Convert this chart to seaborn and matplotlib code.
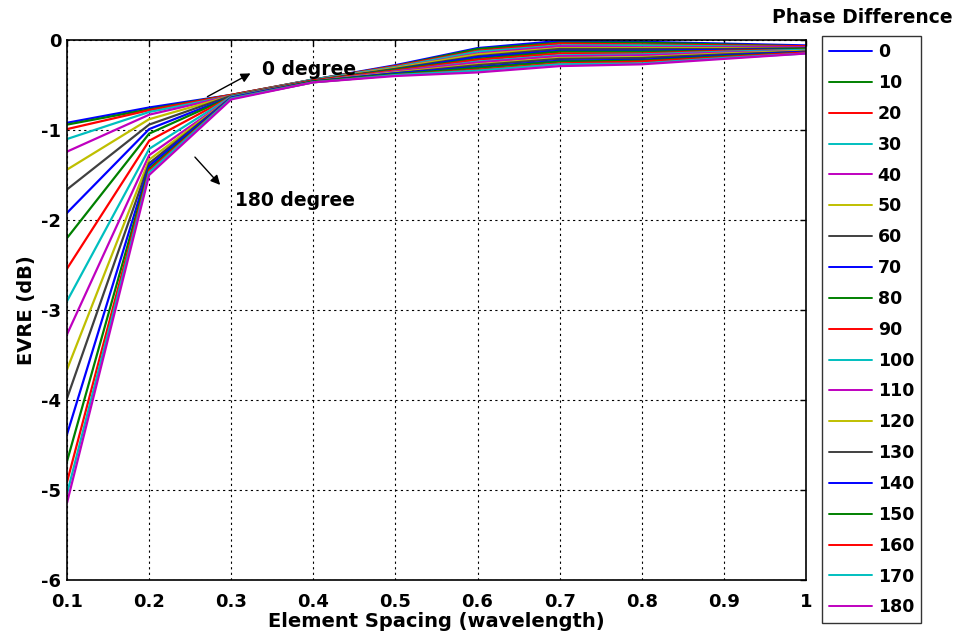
import numpy as np
import pandas as pd
import matplotlib
matplotlib.use("Agg")
import matplotlib.pyplot as plt
import seaborn as sns

# ---- data ----
spacing = [0.1, 0.2, 0.3, 0.4, 0.5, 0.6, 0.7, 0.8, 0.9, 1.0]
phases = [0, 10, 20, 30, 40, 50, 60, 70, 80, 90, 100, 110, 120, 130, 140, 150, 160, 170, 180]

# EVRE (dB) per spacing, listed for phases 0..180
evre_01 = [-0.92, -0.94, -0.99, -1.10, -1.24, -1.44, -1.66, -1.92, -2.20, -2.54,
           -2.90, -3.27, -3.66, -3.98, -4.38, -4.68, -4.91, -5.04, -5.14]
evre_02 = [-0.75, -0.77, -0.78, -0.80, -0.83, -0.88, -0.94, -0.99, -1.04, -1.12,
           -1.21, -1.28, -1.33, -1.37, -1.40, -1.43, -1.45, -1.47, -1.50]
evre_03 = [-0.61, -0.61, -0.61, -0.62, -0.62, -0.62, -0.62, -0.63, -0.63, -0.63,
           -0.63, -0.64, -0.64, -0.64, -0.64, -0.65, -0.65, -0.65, -0.66]
evre_04 = [-0.44, -0.44, -0.44, -0.44, -0.45, -0.45, -0.45, -0.45, -0.45, -0.45,
           -0.46, -0.46, -0.46, -0.46, -0.46, -0.46, -0.47, -0.47, -0.47]
evre_05 = [-0.28, -0.29, -0.29, -0.30, -0.31, -0.31, -0.32, -0.33, -0.33, -0.34,
           -0.35, -0.35, -0.36, -0.37, -0.37, -0.38, -0.39, -0.39, -0.40]
evre_06 = [-0.09, -0.10, -0.12, -0.13, -0.15, -0.16, -0.18, -0.19, -0.21, -0.22,
           -0.24, -0.25, -0.27, -0.28, -0.30, -0.31, -0.33, -0.34, -0.36]
evre_07 = [-0.01, -0.03, -0.04, -0.06, -0.07, -0.09, -0.10, -0.12, -0.13, -0.15,
           -0.17, -0.18, -0.20, -0.21, -0.23, -0.24, -0.26, -0.27, -0.29]
evre_08 = [-0.02, -0.03, -0.05, -0.06, -0.08, -0.09, -0.10, -0.12, -0.13, -0.15,
           -0.16, -0.17, -0.19, -0.20, -0.22, -0.23, -0.24, -0.26, -0.27]
evre_09 = [-0.04, -0.05, -0.06, -0.07, -0.08, -0.09, -0.10, -0.11, -0.12, -0.12,
           -0.13, -0.14, -0.15, -0.16, -0.17, -0.18, -0.19, -0.20, -0.21]
evre_10 = [-0.06, -0.07, -0.07, -0.08, -0.08, -0.09, -0.09, -0.10, -0.10, -0.11,
           -0.11, -0.12, -0.12, -0.13, -0.13, -0.14, -0.14, -0.15, -0.15]

columns = [evre_01, evre_02, evre_03, evre_04, evre_05,
           evre_06, evre_07, evre_08, evre_09, evre_10]

x_ticks = [0.1, 0.2, 0.3, 0.4, 0.5, 0.6, 0.7, 0.8, 0.9, 1]
x_ticklabels = ["0.1", "0.2", "0.3", "0.4", "0.5", "0.6", "0.7", "0.8", "0.9", "1"]
y_ticks = [0, -1, -2, -3, -4, -5, -6]

rows = []
for xi, col in zip(spacing, columns):
    for p, v in zip(phases, col):
        rows.append({"spacing": xi, "phase": str(p), "evre": v})
df = pd.DataFrame(rows)

matlab_cycle = ["#0000ff", "#008000", "#ff0000", "#00bfbf", "#bf00bf", "#bfbf00", "#404040"]
palette = [matlab_cycle[i % 7] for i in range(len(phases))]

sns.set_style("white")
plt.rcParams["font.family"] = ["DejaVu Sans"]
plt.rcParams["font.weight"] = "bold"
for k in ["text.color", "axes.labelcolor", "xtick.color", "ytick.color"]:
    plt.rcParams[k] = "black"

fig = plt.figure(figsize=(9.62, 6.39), dpi=100)
ax = fig.add_axes([0.0697, 0.0923, 0.768, 0.8451])

sns.lineplot(data=df, x="spacing", y="evre", hue="phase",
             hue_order=[str(p) for p in phases], palette=palette,
             linewidth=1.6, ax=ax, legend=True, sort=False)

ax.set_xlim(0.1, 1.0)
ax.set_ylim(-6, 0)
ax.set_xticks(x_ticks)
ax.set_xticklabels(x_ticklabels, fontsize=13, fontweight="bold")
ax.set_yticks(y_ticks)
ax.set_yticklabels([str(t) for t in y_ticks], fontsize=13, fontweight="bold")
ax.tick_params(direction="in", length=4, width=1, top=True, right=True)
ax.tick_params(axis="x", pad=9)
ax.tick_params(axis="y", pad=4)
ax.grid(True, linestyle=(0, (2, 3)), color="black", linewidth=0.8)
for s in ax.spines.values():
    s.set_visible(True)
    s.set_color("black")
    s.set_linewidth(1.2)

ax.set_xlabel("Element Spacing (wavelength)", fontsize=14, fontweight="bold", labelpad=1)
ax.set_ylabel("EVRE (dB)", fontsize=14, fontweight="bold", labelpad=4)

# annotations
ax.annotate("", xy=(0.3265, -0.356), xytext=(0.268, -0.644),
            arrowprops=dict(arrowstyle="-|>", color="black", lw=1, mutation_scale=14))
ax.text(0.3375, -0.333, "0 degree", fontsize=13.5, fontweight="bold", va="center", ha="left")
ax.annotate("", xy=(0.2888, -1.633), xytext=(0.2535, -1.278),
            arrowprops=dict(arrowstyle="-|>", color="black", lw=1, mutation_scale=14))
ax.text(0.3046, -1.78, "180 degree", fontsize=13.5, fontweight="bold", va="center", ha="left")

# legend
handles, labels = ax.get_legend_handles_labels()
leg = ax.legend(handles, labels, loc="upper left", bbox_to_anchor=(1.022, 1.007),
                frameon=True, fancybox=False, edgecolor="black",
                prop={"size": 12.5, "weight": "bold"}, handlelength=2.5,
                handletextpad=0.3, labelspacing=0.74, borderpad=0.4,
                borderaxespad=0)
leg.get_frame().set_linewidth(1.0)
for line in leg.get_lines():
    line.set_linewidth(1.4)
fig.text(0.896, 0.972, "Phase Difference", fontsize=13.5, fontweight="bold",
         ha="center", va="center")

fig.savefig("out.png", dpi=100)
